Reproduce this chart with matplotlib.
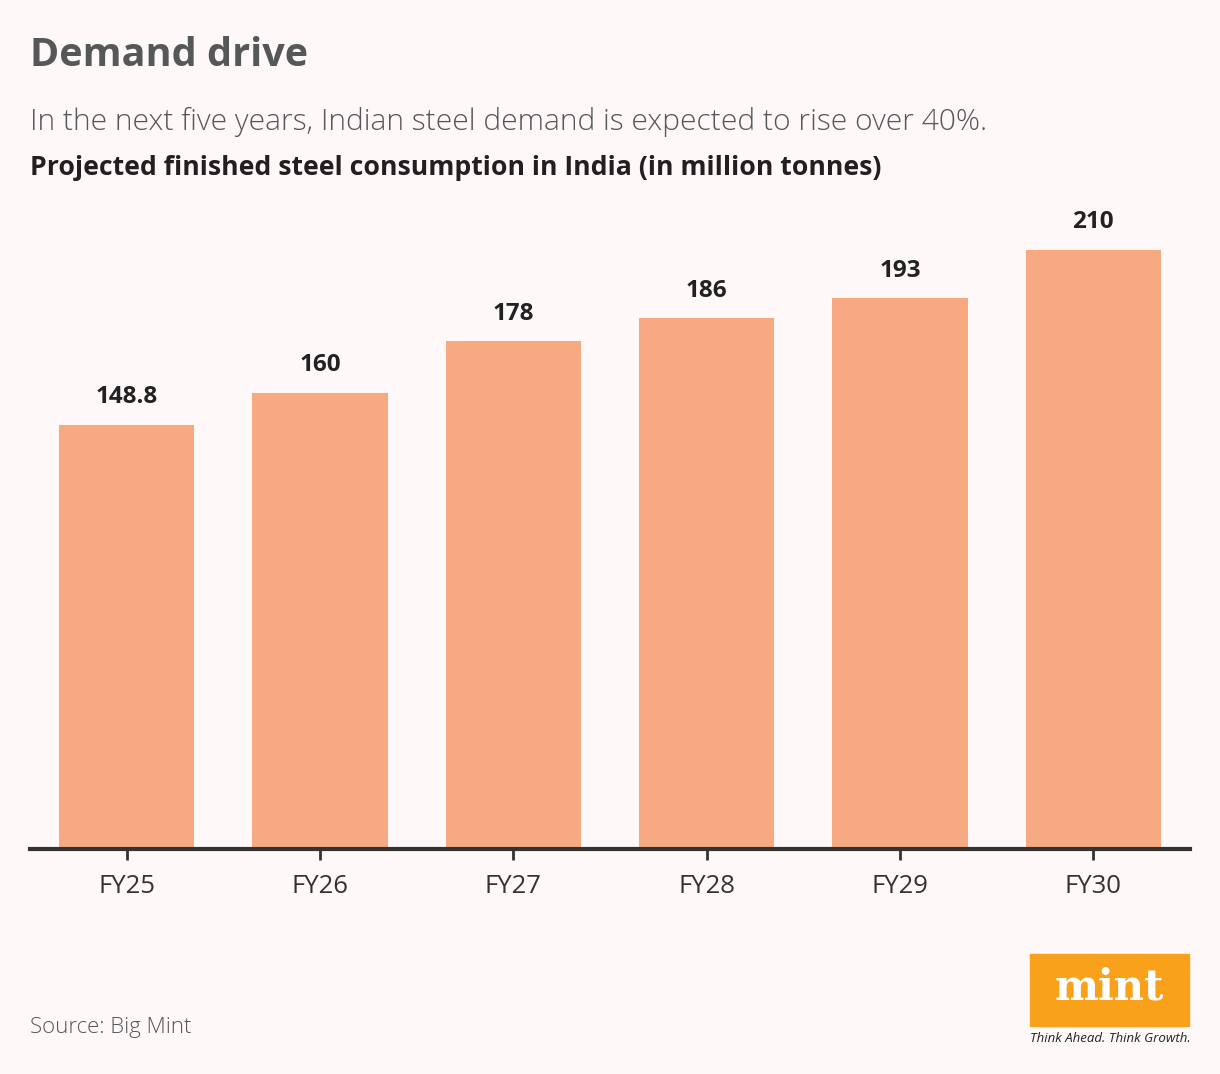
import matplotlib
matplotlib.use('Agg')
import matplotlib.pyplot as plt
from matplotlib.patches import Rectangle

categories = ['FY25', 'FY26', 'FY27', 'FY28', 'FY29', 'FY30']
consumption = [148.8, 160, 178, 186, 193, 210]
value_labels = ['148.8', '160', '178', '186', '193', '210']

bg = '#FEF9F8'
bar_color = '#F7A982'

plt.rcParams['font.family'] = ['Open Sans', 'DejaVu Sans']

fig = plt.figure(figsize=(12.2, 10.74), dpi=100, facecolor=bg)
ax = fig.add_axes([30/1220, 225/1074, 1160/1220, 649/1074])
ax.set_facecolor(bg)

x = list(range(len(categories)))
ax.bar(x, consumption, width=0.7, color=bar_color, zorder=2)
for xi, v, lab in zip(x, consumption, value_labels):
    ax.text(xi, v + 5.5, lab, ha='center', va='bottom', fontsize=17.5,
            fontweight='bold', color='#222222')

ax.set_xlim(-0.5, 5.5)
ax.set_ylim(0, 227.5)
ax.set_xticks(x)
ax.set_xticklabels(categories, fontsize=18.5, color='#333333')
ax.tick_params(axis='x', length=8, width=2, color='#333333', pad=10)
ax.set_yticks([])
for s in ['top', 'right', 'left']:
    ax.spines[s].set_visible(False)
ax.spines['bottom'].set_linewidth(3)
ax.spines['bottom'].set_color('#333333')
ax.spines['bottom'].set_zorder(3)

fig.text(30/1220, 1 - 56/1074, 'Demand drive', fontsize=28.5, fontweight='bold',
         color='#555759', va='center')
fig.text(30/1220, 1 - 122/1074, 'In the next five years, Indian steel demand is expected to rise over 40%.',
         fontsize=21.6, fontweight='light', color='#555759', va='center')
fig.text(30/1220, 1 - 168/1074, 'Projected finished steel consumption in India (in million tonnes)',
         fontsize=19.2, fontweight='bold', color='#231F20', va='center')
fig.text(30/1220, 1 - 1028/1074, 'Source: Big Mint', fontsize=16, fontweight='light',
         color='#555759', va='center')

# mint logo
fig.patches.append(Rectangle((1030/1220, 1 - 1026/1074), 159/1220, 72/1074,
                             transform=fig.transFigure, color='#F9A11B'))
fig.text(1109/1220, 1 - 988/1074, 'mint', fontsize=30, fontweight='bold',
         family=['DejaVu Serif'], color='white', ha='center', va='center')
fig.text(1110/1220, 1 - 1039/1074, 'Think Ahead. Think Growth.', fontsize=9.5,
         style='italic', color='#222222', ha='center', va='center')

fig.savefig('out.png', facecolor=bg)
